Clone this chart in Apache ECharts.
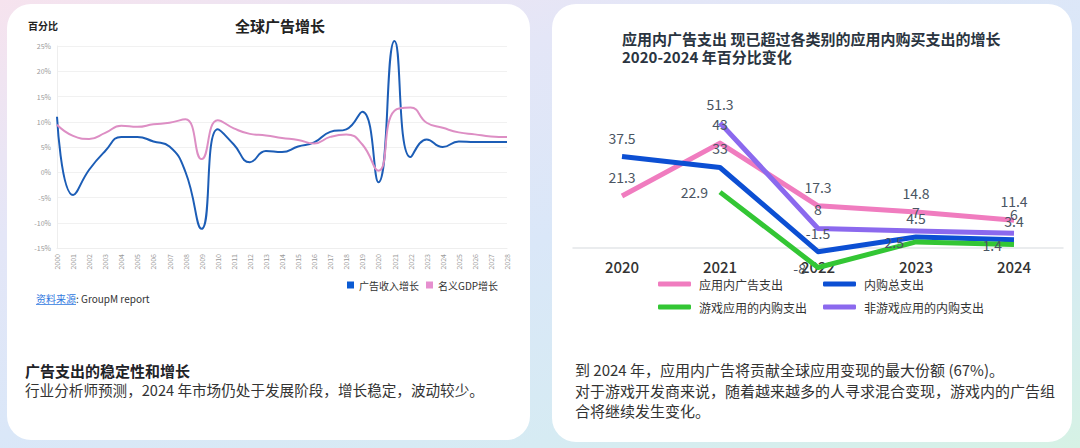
<!DOCTYPE html>
<html><head><meta charset="utf-8">
<script src="https://cdn.jsdelivr.net/npm/echarts@6/dist/echarts.min.js"></script>
<style>
html,body{margin:0;padding:0;width:1080px;height:448px;overflow:hidden;}
body{background:linear-gradient(160deg,#f6e3ee 0%,#e4e6f7 28%,#dae7f8 52%,#d6ebf3 76%,#d6f2e5 100%);position:relative;font-family:"Noto Sans CJK SC",sans-serif;}
.card{position:absolute;background:#fff;border-radius:24px;}
#chart{position:absolute;left:0;top:0;width:1080px;height:448px;}
</style></head><body>
<div class="card" style="left:7px;top:4px;width:523px;height:436px"></div>
<div class="card" style="left:552px;top:4px;width:520px;height:438px"></div>
<div id="chart"></div>
<script>
// ---- Left chart data ----
const leftYears = ['2000','2001','2002','2003','2004','2005','2006','2007','2008','2009','2010','2011','2012','2013','2014','2015','2016','2017','2018','2019','2020','2021','2022','2023','2024','2025','2026','2027','2028'];
const adGrowth = [11, -4.5, 0.5, 4.2, 7.0, 7.0, 6.1, 5.1, 0, -11.2, 8.5, 5.5, 2.0, 4.2, 4.0, 5.1, 5.9, 8.0, 8.5, 12, -2, 26, 3, 6.5, 5.0, 6.1, 6.0, 6.0, 6.0];
const gdpGrowth = [9.4, 7.2, 6.6, 7.8, 9.2, 9.0, 9.5, 9.8, 10.5, 2.6, 10.3, 8.7, 7.6, 7.3, 6.8, 6.4, 5.7, 7.0, 7.5, 5.5, 0.3, 12.2, 12.8, 9.8, 8.8, 7.9, 7.5, 7.1, 7.0];
const leftSeriesNames = ['广告收入增长', '名义GDP增长'];

// ---- Right chart data ----
const rightYears = ['2020','2021','2022','2023','2024'];
const inAppAd = [21.3, 43, 17.3, 14.8, 11.4];
const iapTotal = [37.5, 33, -1.5, 4.5, 3.4];
const gameIap = [null, 22.9, -8, 2.5, 1.4];
const nonGameIap = [null, 51.3, 8, 7, 6];
const rightSeriesNames = ['应用内广告支出', '内购总支出', '游戏应用的内购支出', '非游戏应用的内购支出'];

const FONT = '"Noto Sans CJK SC", "Noto Sans", sans-serif';
const chart = echarts.init(document.getElementById('chart'), null, {renderer: 'svg'});

function rightSeries(name, data, color, pos) {
  return {
    type: 'line', name: name, xAxisIndex: 1, yAxisIndex: 1, data: data,
    symbol: 'circle', symbolSize: 0, showSymbol: true,
    lineStyle: {color: color, width: 5, join: 'round'},
    itemStyle: {color: color},
    label: {show: true, position: pos, distance: 12, fontSize: 14, color: '#4a5562', fontFamily: FONT},
    emphasis: {disabled: true}, animation: false
  };
}

function txt(x, y, text, font, fill, align) {
  return {type: 'text', z: 10, style: {x: x, y: y, text: text, font: font, fill: fill, textAlign: align || 'left', textVerticalAlign: 'middle'}};
}

const option = {
  animation: false,
  textStyle: {fontFamily: FONT},
  grid: [
    {left: 57, right: 573, top: 46, bottom: 200},
    {left: 573, right: 17, top: 101.6, bottom: 175.6}
  ],
  xAxis: [
    {gridIndex: 0, type: 'category', data: leftYears, boundaryGap: false,
     axisLine: {onZero: false, show: true, lineStyle: {color: '#eeeeee'}},
     axisTick: {show: false},
     axisLabel: {rotate: 90, fontSize: 7, color: '#999', margin: 6, interval: 0}},
    {gridIndex: 1, type: 'category', data: rightYears, boundaryGap: true,
     axisLine: {onZero: true, lineStyle: {color: '#e3e6e9', width: 1.5}},
     axisTick: {show: false},
     axisLabel: {fontSize: 15, color: '#333', margin: -13, fontWeight: 500}}
  ],
  yAxis: [
    {gridIndex: 0, type: 'value', min: -15, max: 25, interval: 5,
     axisLabel: {formatter: '{value}%', fontSize: 7, color: '#999', margin: 6},
     splitLine: {lineStyle: {color: '#f1f1f1'}},
     axisLine: {show: true, lineStyle: {color: '#eeeeee'}}, axisTick: {show: false}},
    {gridIndex: 1, type: 'value', min: -10, max: 60, show: false}
  ],
  legend: [
    {data: leftSeriesNames, left: 347, top: 280, icon: 'rect', itemWidth: 7, itemHeight: 7, itemGap: 7, padding: 0,
     selectedMode: false, textStyle: {fontSize: 10, color: '#333'}},
    {data: [rightSeriesNames[0], rightSeriesNames[2]], orient: 'vertical', left: 658, top: 277, icon: 'roundRect',
     itemWidth: 33, itemHeight: 5, itemGap: 9, padding: 0, selectedMode: false,
     textStyle: {fontSize: 12, color: '#333', lineHeight: 14, padding: [0, 0, 0, 3]}},
    {data: [rightSeriesNames[1], rightSeriesNames[3]], orient: 'vertical', left: 823, top: 277, icon: 'roundRect',
     itemWidth: 33, itemHeight: 5, itemGap: 9, padding: 0, selectedMode: false,
     textStyle: {fontSize: 12, color: '#333', lineHeight: 14, padding: [0, 0, 0, 3]}}
  ],
  series: [
    {type: 'line', name: leftSeriesNames[0], xAxisIndex: 0, yAxisIndex: 0, data: adGrowth, smooth: true,
     showSymbol: false, clip: false, lineStyle: {color: '#1c5db6', width: 2}, itemStyle: {color: '#0b5bd3'},
     emphasis: {disabled: true}},
    {type: 'line', name: leftSeriesNames[1], xAxisIndex: 0, yAxisIndex: 0, data: gdpGrowth, smooth: true,
     showSymbol: false, clip: false, lineStyle: {color: '#dd8ec4', width: 2}, itemStyle: {color: '#e68fcf'},
     emphasis: {disabled: true}},
    rightSeries(rightSeriesNames[0], inAppAd, '#f07cbf', 'top'),
    rightSeries(rightSeriesNames[1], iapTotal, '#0c4fd3', 'top'),
    rightSeries(rightSeriesNames[2], gameIap, '#33c634', 'left'),
    rightSeries(rightSeriesNames[3], nonGameIap, '#8b69ee', 'top')
  ],
  graphic: [
    txt(280, 25, '全球广告增长', 'bold 15px ' + FONT, '#222', 'center'),
    txt(28, 25, '百分比', 'bold 10px ' + FONT, '#222'),
    txt(36, 298, '资料来源', '10px ' + FONT, '#2f78e0'),
    {type: 'line', z: 10, shape: {x1: 36, y1: 304.5, x2: 76, y2: 304.5}, style: {stroke: '#2f78e0', lineWidth: 0.8}},
    txt(76, 298, ': GroupM report', '10px ' + FONT, '#333'),
    txt(25, 370, '广告支出的稳定性和增长', 'bold 15px ' + FONT, '#1f2328'),
    txt(25, 389, '行业分析师预测，2024 年市场仍处于发展阶段，增长稳定，波动较少。', '14.6px ' + FONT, '#333'),
    txt(622, 38, '应用内广告支出 现已超过各类别的应用内购买支出的增长', 'bold 15px ' + FONT, '#2a3440'),
    txt(622, 56, '2020-2024 年百分比变化', 'bold 15px ' + FONT, '#2a3440'),
    txt(575, 369, '到 2024 年，应用内广告将贡献全球应用变现的最大份额 (67%)。', '15px ' + FONT, '#333'),
    txt(575, 390, '对于游戏开发商来说，随着越来越多的人寻求混合变现，游戏内的广告组', '15px ' + FONT, '#333'),
    txt(575, 410, '合将继续发生变化。', '15px ' + FONT, '#333')
  ]
};
chart.setOption(option);
</script></body></html>
